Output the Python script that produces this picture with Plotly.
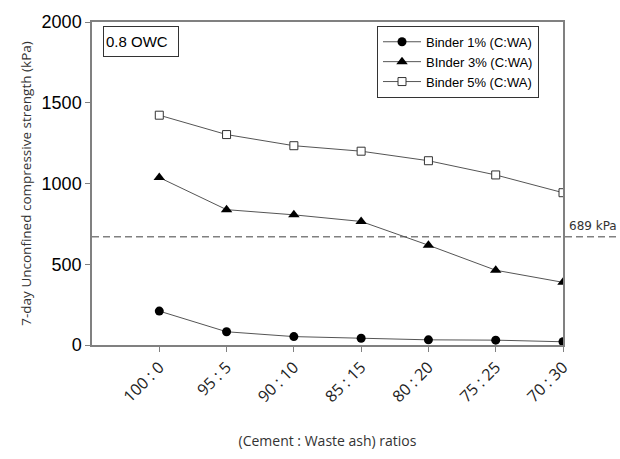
import plotly.graph_objects as go

ratios = ["100 : 0", "95 : 5", "90 : 10", "85 : 15", "80 : 20", "75 : 25", "70 : 30"]
binder1 = [210, 82, 52, 42, 32, 30, 20]
binder3 = [1037, 838, 806, 765, 618, 463, 388]
binder5 = [1423, 1303, 1234, 1200, 1141, 1053, 943]
threshold = 670
threshold_label = "689 kPa"
y_ticks = [0, 500, 1000, 1500, 2000]

L, R, T, B = 92, 57, 17, 102
W, H = 620, 459
pw = W - L - R
ph = H - T - B

fig = go.Figure()
line_col = "#555555"
fig.add_trace(go.Scatter(x=ratios, y=binder1, mode="lines+markers", name="Binder 1% (C:WA)",
                         line=dict(color=line_col, width=1),
                         marker=dict(symbol="circle", size=9, color="black")))
fig.add_trace(go.Scatter(x=ratios, y=binder3, mode="lines+markers", name="BInder 3% (C:WA)",
                         line=dict(color=line_col, width=1),
                         marker=dict(symbol="triangle-up", size=10, color="black")))
fig.add_trace(go.Scatter(x=ratios, y=binder5, mode="lines+markers", name="Binder 5% (C:WA)",
                         line=dict(color=line_col, width=1),
                         marker=dict(symbol="square", size=8, color="white",
                                     line=dict(color="#333333", width=1))))

fig.add_shape(type="line", xref="paper", yref="y", x0=0, x1=(W - L) / pw, y0=threshold, y1=threshold,
              line=dict(color="#808080", width=1.5, dash="7px,4px"), layer="below")
fig.add_annotation(text=threshold_label, xref="paper", yref="y", x=(567 - L) / pw, y=threshold,
                   xanchor="left", yanchor="bottom", yshift=2, showarrow=False,
                   font=dict(family="DejaVu Sans", size=12, color="#333333"))
fig.add_annotation(text="0.8 OWC", xref="paper", yref="paper", x=(103 - L) / pw, y=(H - B - 21) / ph,
                   xanchor="left", yanchor="top", showarrow=False, align="left",
                   width=70, height=25, borderpad=2, bordercolor="#333333", borderwidth=1,
                   bgcolor="white",
                   font=dict(family="Liberation Sans", size=15, color="black"))

fig.update_layout(
    width=W, height=H,
    margin=dict(l=L, r=R, t=T, b=B),
    paper_bgcolor="white", plot_bgcolor="white",
    showlegend=True,
    legend=dict(x=(377 - L) / pw, y=(H - B - 21) / ph, xanchor="left", yanchor="top",
                bordercolor="#333333", borderwidth=1, bgcolor="white",
                font=dict(family="Liberation Sans", size=13, color="black"),
                tracegroupgap=0, itemwidth=38),
)
fig.update_xaxes(type="category", range=[-1, 6], showline=True, linecolor="#808080", linewidth=1.5,
                 mirror=True, ticks="outside", ticklen=5, tickcolor="#808080", tickangle=-45,
                 showgrid=False, zeroline=False,
                 tickfont=dict(family="Open Sans", size=16, color="#222222"),
                 title=dict(text="(Cement : Waste ash) ratios", standoff=30,
                            font=dict(family="Open Sans", size=14, color="#333333")))
fig.update_yaxes(range=[0, 2000], tickvals=y_ticks, showline=True, linecolor="#808080", linewidth=1.5,
                 mirror=True, ticks="outside", ticklen=5, tickcolor="#808080",
                 showgrid=False, zeroline=False,
                 tickfont=dict(family="Liberation Sans", size=18, color="black"),
                 title=dict(text="7-day Unconfined compressive strength (kPa)", standoff=7,
                            font=dict(family="Open Sans", size=13.5, color="#333333")))

fig.write_html("out.html")
